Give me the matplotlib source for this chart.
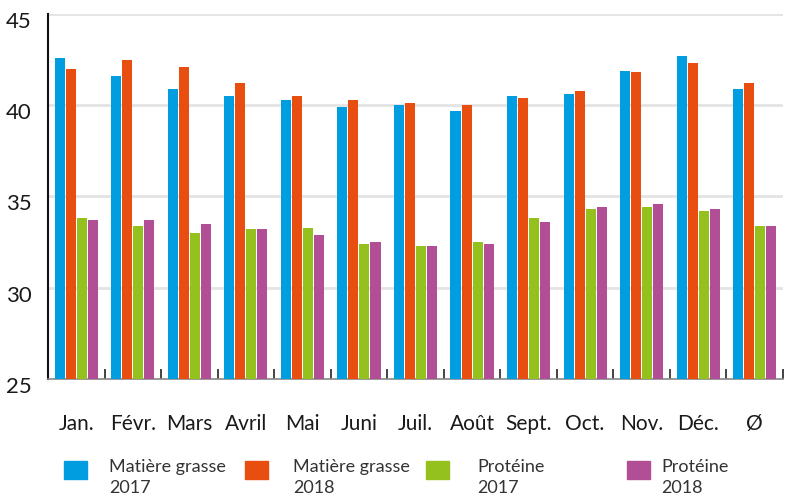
import matplotlib
matplotlib.use("Agg")
import matplotlib.pyplot as plt
import matplotlib.transforms as mtransforms
from matplotlib.patches import Rectangle
import numpy as np

plt.rcParams["font.family"] = ["Lato", "DejaVu Sans"]

months = ["Jan.", "Févr.", "Mars", "Avril", "Mai", "Juni", "Juil.", "Août",
          "Sept.", "Oct.", "Nov.", "Déc.", "Ø"]
fat_2017 = [42.6, 41.6, 40.9, 40.5, 40.3, 39.9, 40.0, 39.7, 40.5, 40.6, 41.9, 42.7, 40.9]
fat_2018 = [42.0, 42.5, 42.1, 41.2, 40.5, 40.3, 40.1, 40.0, 40.4, 40.8, 41.8, 42.3, 41.2]
prot_2017 = [33.8, 33.4, 33.0, 33.2, 33.3, 32.4, 32.3, 32.5, 33.8, 34.3, 34.4, 34.2, 33.4]
prot_2018 = [33.7, 33.7, 33.5, 33.2, 32.9, 32.5, 32.3, 32.4, 33.6, 34.4, 34.6, 34.3, 33.4]
series_labels = ["Matière grasse\n2017", "Matière grasse\n2018", "Protéine\n2017", "Protéine\n2018"]
colors = ["#009ee0", "#e84e0f", "#95c11f", "#b14e96"]

fig = plt.figure(figsize=(7.95, 4.98), dpi=100)
ax = fig.add_axes([48 / 795, 1 - 379 / 498, 735 / 795, 365 / 498])

x = np.arange(len(months))
slot = 0.195
width = 0.177
for i, (vals, c) in enumerate(zip([fat_2017, fat_2018, prot_2017, prot_2018], colors)):
    ax.bar(x + (i - 1.5) * slot, np.array(vals) - 25, bottom=25, width=width,
           color=c, zorder=3)

ax.set_xlim(-0.5, len(months) - 0.5)
ax.set_ylim(25, 45)
ax.set_yticks([25, 30, 35, 40, 45])
for y in [30, 35, 40, 45]:
    ax.axhline(y, color="#e4e4e4", lw=2, zorder=1)

ax.set_xticks(x)
ax.set_xticklabels(months, fontsize=15, color="#1a1a1a")
ax.set_xticks(x + 0.5, minor=True)
ax.tick_params(axis="x", which="major", length=0, pad=25)
ax.tick_params(axis="x", which="minor", direction="in", length=7, width=1.2, color="#222222")
ax.tick_params(axis="y", length=0, pad=12, labelsize=16, labelcolor="#1a1a1a")

offset = mtransforms.ScaledTranslation(0, -6 / 100, fig.dpi_scale_trans)
for lbl in ax.get_yticklabels():
    lbl.set_transform(lbl.get_transform() + offset)

for s in ["top", "right"]:
    ax.spines[s].set_visible(False)
ax.spines["left"].set_color("#111111")
ax.spines["left"].set_linewidth(1.5)
ax.spines["bottom"].set_color("#888888")
ax.spines["bottom"].set_linewidth(1.2)

# legend, laid out by hand along the bottom
sq_x = [64, 245, 426, 627]
txt_x = [109, 293, 477, 661]
for sx, tx, c, lab in zip(sq_x, txt_x, colors, series_labels):
    fig.add_artist(Rectangle((sx / 795, 1 - 479 / 498), 23 / 795, 18 / 498,
                             transform=fig.transFigure, color=c))
    fig.text(tx / 795, 1 - 459 / 498, lab, fontsize=13, color="#333333",
             va="top", ha="left", linespacing=1.4)

fig.savefig("out.png", dpi=100)
